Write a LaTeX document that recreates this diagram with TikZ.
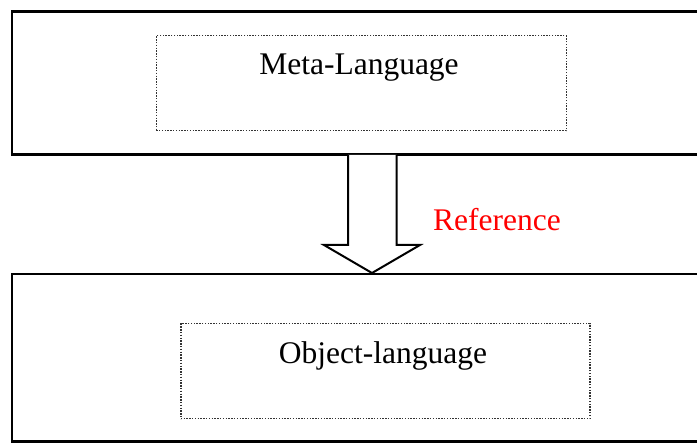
\documentclass[tikz,border=0pt]{standalone}
\usepackage{fontspec}
\setmainfont{Liberation Serif}
\begin{document}
\begin{tikzpicture}[x=1pt,y=-1pt,
  outerbox/.style={draw=black,line width=2.2pt},
  innerbox/.style={draw=black!80,line width=1.5pt,dash pattern=on 1.4pt off 1.4pt},
  lbl/.style={font=\fontsize{31.5}{36}\selectfont,inner sep=0pt},
  arrowshape/.style={draw=black,line width=2pt,fill=white,line join=miter}]
\useasboundingbox (0,0) rectangle (697,443);
\clip (0,0) rectangle (697,443);
\draw[outerbox] (700,11.5) -- (12,11.5) -- (12,154.5) -- (700,154.5);
\draw[outerbox] (700,274) -- (12,274) -- (12,441.5) -- (700,441.5);
\node[innerbox,minimum width=410pt,minimum height=95pt,anchor=north west] (meta) at (155.5,35) {};
\node[lbl,anchor=base] (metat) at (359,75) {Meta-Language};
\node[innerbox,minimum width=409pt,minimum height=95pt,anchor=north west] (obj) at (180,323) {};
\node[lbl,anchor=base] (objt) at (383,364) {Object-language};
\coordinate (tip) at (372,273);
\draw[arrowshape] (348,155) -- (348,245) -- (324,245) -- (tip) -- (420,245) -- (396.5,245) -- (396.5,155);
\node[lbl,text=red,anchor=base west] (ref) at (433,231) {Reference};
\end{tikzpicture}
\end{document}
